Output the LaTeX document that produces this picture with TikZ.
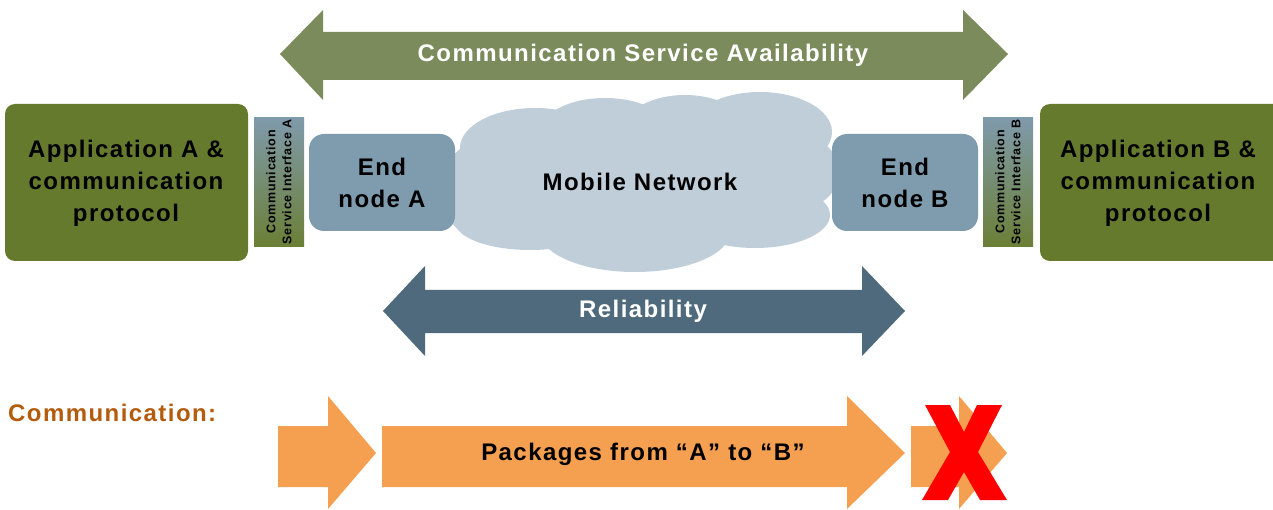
\documentclass[tikz,border=0pt]{standalone}
\usepackage{fontspec}
\setmainfont{Liberation Sans}[LetterSpace=6]
\definecolor{availgreen}{HTML}{7B8B5B}
\definecolor{appgreen}{HTML}{667A2E}
\definecolor{nodeblue}{HTML}{7F9BAE}
\definecolor{cloudblue}{HTML}{BFCED9}
\definecolor{relblue}{HTML}{4E6A7C}
\definecolor{pkgorange}{HTML}{F4A050}
\definecolor{commbrown}{HTML}{B35C0D}
\definecolor{ifctop}{HTML}{7F9AAB}
\definecolor{ifcbot}{HTML}{6B7F35}
\begin{document}
\begin{tikzpicture}[x=1pt,y=-1pt,
  big/.style={font=\fontsize{24}{32}\selectfont\bfseries, align=center, inner sep=0pt},
  appbox/.style={fill=appgreen, rounded corners=10pt},
  endbox/.style={fill=nodeblue, rounded corners=15pt},
  ifcbox/.style={top color=ifctop, bottom color=ifcbot},
  ifctext/.style={font=\fontsize{12.5}{16}\selectfont\bfseries, align=center, rotate=90, inner sep=0pt}
]
\useasboundingbox (0,0) rectangle (1273,510);

% top double arrow
\fill[availgreen] (280,54) -- (323,10) -- (323,32) -- (963,32) -- (963,10) -- (1008,54)
  -- (963,100) -- (963,80) -- (323,80) -- (323,100) -- cycle;
\node[big, text=white] (avail) at (643,55) {Communication Service Availability};

% cloud
\begin{scope}[fill=cloudblue]
\fill (492,190) ellipse [x radius=52, y radius=52];
\fill (535,148) ellipse [x radius=75, y radius=40];
\fill (605,132) ellipse [x radius=65, y radius=34];
\fill (685,128) ellipse [x radius=60, y radius=33];
\fill (760,132) ellipse [x radius=72, y radius=40];
\fill (795,172) ellipse [x radius=44, y radius=38];
\fill (635,232) ellipse [x radius=95, y radius=40];
\fill (530,222) ellipse [x radius=75, y radius=28];
\fill (755,215) ellipse [x radius=75, y radius=33];
\fill (470,150) rectangle (820,225);
\end{scope}
\node[big] (net) at (640,182) {Mobile Network};

% application boxes
\path[appbox] (5,104) rectangle (248,261);
\node[big] (appA) at (126,183) {Application A \&\\communication\\protocol};
\path[appbox] (1040,104) rectangle (1283,261);
\node[big] (appB) at (1158,183) {Application B \&\\communication\\protocol};

% interfaces
\path[ifcbox] (254,118) rectangle (304,247);
\node[ifctext] (ifcA) at (279,182) {Communication\\Service Interface A};
\path[ifcbox] (983,118) rectangle (1033,247);
\node[ifctext] (ifcB) at (1008,182) {Communication\\Service Interface B};

% end nodes
\path[endbox] (309,134) rectangle (455,231);
\node[big] (endA) at (382,183) {End\\node A};
\path[endbox] (832,134) rectangle (978,231);
\node[big] (endB) at (905,183) {End\\node B};

% reliability double arrow
\fill[relblue] (383,311) -- (425,266) -- (425,290) -- (862,290) -- (862,266) -- (905,311)
  -- (862,356) -- (862,333) -- (425,333) -- (425,356) -- cycle;
\node[big, text=white] (rel) at (643,311) {Reliability};

% communication label
\node[big, text=commbrown, anchor=west] (comm) at (8,413) {Communication:};

% packet arrows
\fill[pkgorange] (278,426) -- (328,426) -- (328,396) -- (376,453) -- (328,509) -- (328,487) -- (278,487) -- cycle;
\fill[pkgorange] (382,426) -- (847,426) -- (847,396) -- (905,453) -- (847,509) -- (847,487) -- (382,487) -- cycle;
\fill[pkgorange] (911,426) -- (959,426) -- (959,396) -- (1007,453) -- (959,509) -- (959,487) -- (911,487) -- cycle;
\node[big] (pkg) at (643,454) {Packages from “A” to “B”};

% red X
\fill[red] (925,405) -- (950,405) -- (964,432) -- (977,405) -- (1002,405) -- (978,452)
  -- (1007,500) -- (980,500) -- (964,472) -- (948,500) -- (922,500) -- (950,452) -- cycle;
\end{tikzpicture}
\end{document}
